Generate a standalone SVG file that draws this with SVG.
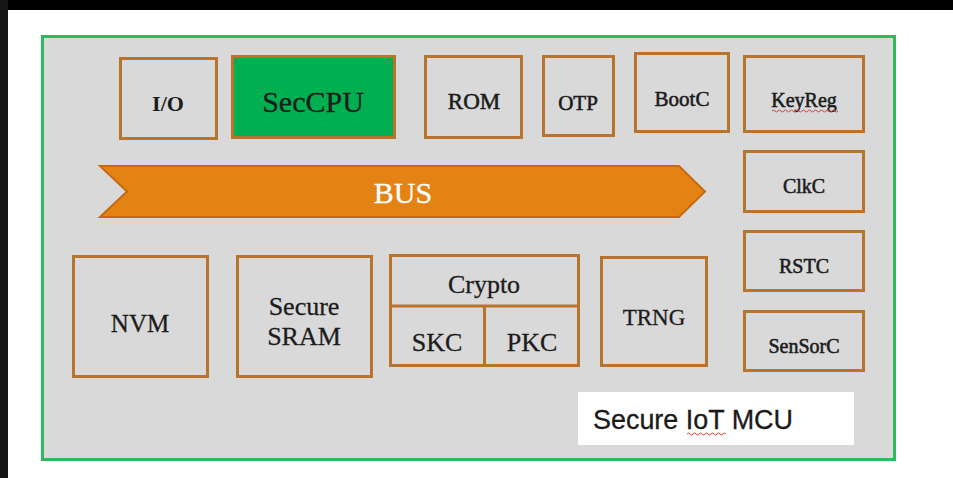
<svg xmlns="http://www.w3.org/2000/svg" width="953" height="478" viewBox="0 0 953 478">
<style>
.blk{fill:#d9d9d9;stroke:#b8732c;stroke-width:3}
.t{font-family:"Liberation Serif","Times New Roman",serif;fill:#1c1c1c;text-anchor:middle;stroke:#1c1c1c;stroke-width:0.3}
.b{font-weight:bold;stroke-width:0}
.m{stroke-width:0.55}
.sq{fill:none;stroke:#e03a3a;stroke-width:1}
</style>
<rect x="0" y="0" width="953" height="478" fill="#ffffff"/>
<rect x="0" y="0" width="953" height="10" fill="#000000"/>
<rect x="0" y="0" width="8" height="478" fill="#161616"/>
<rect id="chip" x="42.5" y="36.5" width="852" height="423" fill="#d9d9d9" stroke="#2dbb5c" stroke-width="3"/>

<g id="io"><rect class="blk" x="120.5" y="58.5" width="96" height="80"/><text class="t b" x="168" y="111" font-size="22">I/O</text></g>
<g id="seccpu"><rect x="232.5" y="56.5" width="162" height="81" fill="#00b050" stroke="#b8732c" stroke-width="3"/><text class="t" x="313" y="112" font-size="30">SecCPU</text></g>
<g id="rom"><rect class="blk" x="425.5" y="56.5" width="96" height="81"/><text class="t m" x="474" y="109" font-size="23">ROM</text></g>
<g id="otp"><rect class="blk" x="543.5" y="56.5" width="70" height="79"/><text class="t m" x="578" y="110" font-size="21">OTP</text></g>
<g id="bootc"><rect class="blk" x="635.5" y="53.5" width="93" height="78"/><text class="t m" x="682" y="106" font-size="21">BootC</text></g>
<g id="keyreg"><rect class="blk" x="744.5" y="56.5" width="119" height="75"/><text class="t m" x="804" y="107" font-size="20">KeyReg</text><path class="sq" d="M772 111 q1.5 -2 3 0 t3 0 t3 0 t3 0 t3 0 t3 0 t3 0 t3 0 t3 0 t3 0 t3 0 t3 0 t3 0 t3 0 t3 0 t3 0 t3 0 t3 0 t3 0 t3 0 t3 0 t3 0"/></g>
<g id="clkc"><rect class="blk" x="744.5" y="151.5" width="119" height="60"/><text class="t m" x="804" y="193" font-size="20">ClkC</text></g>
<g id="rstc"><rect class="blk" x="744.5" y="231.5" width="119" height="59"/><text class="t m" x="804" y="273" font-size="20">RSTC</text></g>
<g id="sensorc"><rect class="blk" x="744.5" y="311.5" width="119" height="59"/><text class="t m" x="804" y="353" font-size="20">SenSorC</text></g>

<g id="bus"><polygon points="100,166 679,166 705,191.5 679,217 100,217 127,191.5" fill="#e48314" stroke="#c56a12" stroke-width="2"/><text class="t" x="403" y="203" font-size="30" style="fill:#ffffff;stroke:#ffffff">BUS</text></g>

<g id="nvm"><rect class="blk" x="73.5" y="256.5" width="134" height="120"/><text class="t" x="140" y="332" font-size="25">NVM</text></g>
<g id="sram"><rect class="blk" x="237.5" y="256.5" width="134" height="120"/><text class="t" x="304" y="315" font-size="26">Secure</text><text class="t" x="304" y="345" font-size="26">SRAM</text></g>
<g id="crypto"><rect class="blk" x="390.5" y="255.5" width="188" height="110"/><line x1="390" y1="306" x2="579" y2="306" stroke="#b8732c" stroke-width="3"/><text class="t" x="484" y="293" font-size="26">Crypto</text></g>
<g id="skc"><line x1="484.5" y1="306" x2="484.5" y2="366" stroke="#b8732c" stroke-width="3"/><text class="t" x="437" y="351" font-size="26">SKC</text></g>
<g id="pkc"><text class="t" x="532" y="351" font-size="26">PKC</text></g>
<g id="trng"><rect class="blk" x="601.5" y="257.5" width="105" height="108"/><text class="t" x="654" y="325" font-size="23">TRNG</text></g>

<g id="label"><rect x="578" y="392" width="276" height="53" fill="#ffffff"/><text x="593" y="429" font-family="Liberation Sans, Arial, sans-serif" font-size="27" fill="#1a1a1a" stroke="#1a1a1a" stroke-width="0.3" textLength="200" lengthAdjust="spacingAndGlyphs">Secure IoT MCU</text><path class="sq" d="M687 434 q1.5 -2 3 0 t3 0 t3 0 t3 0 t3 0 t3 0 t3 0 t3 0 t3 0 t3 0 t3 0 t3 0 t3 0"/></g>
<g id="connectors"></g>
</svg>
